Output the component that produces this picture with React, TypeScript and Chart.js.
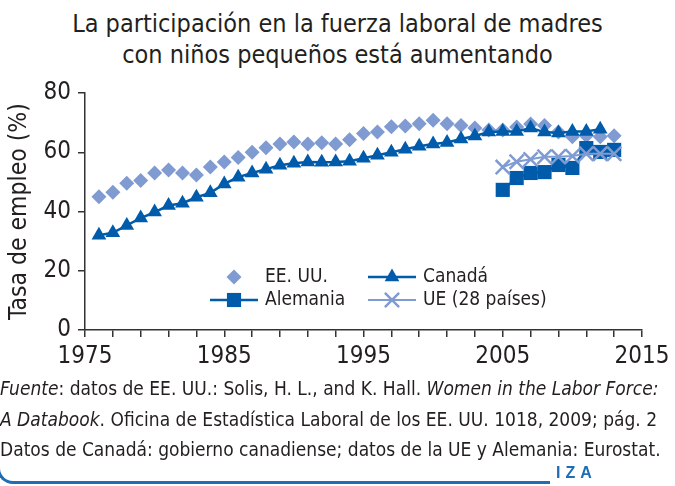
import React, { useEffect, useRef } from 'react';
import { Chart, registerables } from 'chart.js';

Chart.register(...registerables);

const FONT = "'Liberation Sans Narrow', 'DejaVu Sans Condensed', 'Roboto Condensed', 'Liberation Sans', sans-serif";

const titleLines = ['La participación en la fuerza laboral de madres', 'con niños pequeños está aumentando'];
const yAxisTitle = 'Tasa de empleo (%)';

const usYears = [1976, 1977, 1978, 1979, 1980, 1981, 1982, 1983, 1984, 1985, 1986, 1987, 1988, 1989, 1990, 1991, 1992, 1993, 1994, 1995, 1996, 1997, 1998, 1999, 2000, 2001, 2002, 2003, 2004, 2005, 2006, 2007, 2008, 2009, 2010, 2011, 2012, 2013];
const usValues = [45, 46.5, 49.5, 50.5, 53, 54, 53, 52.3, 55, 56.7, 58.2, 60, 61.5, 62.8, 63.5, 62.8, 63.2, 62.8, 64.2, 66.3, 66.8, 68.6, 68.9, 69.6, 70.8, 69.6, 69, 68.2, 67.5, 67.5, 68.5, 69.5, 69, 66.8, 65.2, 65.6, 65.2, 65.6];

const canadaYears = [1976, 1977, 1978, 1979, 1980, 1981, 1982, 1983, 1984, 1985, 1986, 1987, 1988, 1989, 1990, 1991, 1992, 1993, 1994, 1995, 1996, 1997, 1998, 1999, 2000, 2001, 2002, 2003, 2004, 2005, 2006, 2007, 2008, 2009, 2010, 2011, 2012];
const canadaValues = [32, 32.8, 35.3, 37.8, 39.8, 42, 42.8, 44.8, 46.3, 49.3, 51.6, 53, 54.3, 55.6, 56.3, 56.7, 56.6, 56.7, 57, 58, 59, 60, 61, 62, 62.8, 63.3, 64.5, 65.5, 66.8, 67, 67, 68.2, 66.8, 66.5, 67, 67, 67.8];

const germanyYears = [2005, 2006, 2007, 2008, 2009, 2010, 2011, 2012, 2013];
const germanyValues = [47.3, 51.3, 53, 53.3, 55.7, 54.7, 61.4, 60.1, 60.8];

const euYears = [2005, 2006, 2007, 2008, 2009, 2010, 2011, 2012, 2013];
const euValues = [55, 56.8, 57.6, 58.5, 58.5, 58.7, 59.5, 59.5, 59.5];

const xLabelYears = [1975, 1985, 1995, 2005, 2015];

const LIGHT = '#7f9bd1';
const DARK = '#005bab';
const AXIS = '#333333';

const toPoints = (xs: number[], ys: number[]) => xs.map((x, i) => ({ x, y: ys[i] }));

function drawMarker(ctx: CanvasRenderingContext2D, style: string, x: number, y: number, r: number, color: string) {
  ctx.save();
  ctx.fillStyle = color;
  ctx.strokeStyle = color;
  ctx.beginPath();
  if (style === 'rectRot') {
    ctx.moveTo(x, y - r);
    ctx.lineTo(x + r, y);
    ctx.lineTo(x, y + r);
    ctx.lineTo(x - r, y);
    ctx.closePath();
    ctx.fill();
  } else if (style === 'triangle') {
    const h = r * Math.sqrt(3) / 2;
    ctx.moveTo(x, y - r);
    ctx.lineTo(x + h, y + r / 2);
    ctx.lineTo(x - h, y + r / 2);
    ctx.closePath();
    ctx.fill();
  } else if (style === 'rect') {
    const s = Math.SQRT1_2 * r;
    ctx.rect(x - s, y - s, 2 * s, 2 * s);
    ctx.fill();
  } else if (style === 'crossRot') {
    const d = Math.SQRT1_2 * r;
    ctx.lineWidth = 2.5;
    ctx.moveTo(x - d, y - d);
    ctx.lineTo(x + d, y + d);
    ctx.moveTo(x - d, y + d);
    ctx.lineTo(x + d, y - d);
    ctx.stroke();
  }
  ctx.restore();
}

const legendPlugin = {
  id: 'customLegend',
  afterDatasetsDraw(chart: any) {
    const ctx = chart.ctx as CanvasRenderingContext2D;
    const items = [
      { idx: 0, cx: 234, cy: 277, line: false },
      { idx: 1, cx: 392, cy: 277, line: true },
      { idx: 2, cx: 234, cy: 300, line: true },
      { idx: 3, cx: 392, cy: 300, line: true },
    ];
    items.forEach((it) => {
      const ds = chart.data.datasets[it.idx];
      if (it.line) {
        ctx.save();
        ctx.strokeStyle = ds.borderColor;
        ctx.lineWidth = ds.borderWidth;
        ctx.beginPath();
        ctx.moveTo(it.cx - 24, it.cy);
        ctx.lineTo(it.cx + 24, it.cy);
        ctx.stroke();
        ctx.restore();
      }
      drawMarker(ctx, ds.pointStyle, it.cx, it.cy, ds.pointRadius, ds.pointBackgroundColor);
      ctx.save();
      ctx.fillStyle = '#231f20';
      ctx.font = `19px ${FONT}`;
      ctx.textBaseline = 'middle';
      ctx.textAlign = 'left';
      ctx.fillText(ds.label, it.cx + 31, it.cy);
      ctx.restore();
    });
  },
};

export default function App() {
  const canvasRef = useRef<HTMLCanvasElement | null>(null);

  useEffect(() => {
    if (!canvasRef.current) return;
    const chart = new Chart(canvasRef.current, {
      type: 'line',
      data: {
        datasets: [
          {
            label: 'EE. UU.',
            data: toPoints(usYears, usValues),
            showLine: false,
            borderColor: LIGHT,
            borderWidth: 0,
            pointStyle: 'rectRot',
            pointRadius: 7.5,
            pointBackgroundColor: LIGHT,
            pointBorderColor: LIGHT,
            pointBorderWidth: 0,
            order: 3,
          },
          {
            label: 'Canadá',
            data: toPoints(canadaYears, canadaValues),
            borderColor: DARK,
            borderWidth: 2.5,
            pointStyle: 'triangle',
            pointRadius: 8.5,
            pointBackgroundColor: DARK,
            pointBorderColor: DARK,
            pointBorderWidth: 0,
            order: 2,
          },
          {
            label: 'Alemania',
            data: toPoints(germanyYears, germanyValues),
            borderColor: DARK,
            borderWidth: 2.5,
            pointStyle: 'rect',
            pointRadius: 10,
            pointBackgroundColor: DARK,
            pointBorderColor: DARK,
            pointBorderWidth: 0,
            order: 1,
          },
          {
            label: 'UE (28 países)',
            data: toPoints(euYears, euValues),
            borderColor: LIGHT,
            borderWidth: 2,
            pointStyle: 'crossRot',
            pointRadius: 10,
            pointBackgroundColor: LIGHT,
            pointBorderColor: LIGHT,
            pointBorderWidth: 2.5,
            order: 0,
          },
        ],
      },
      options: {
        animation: false,
        responsive: false,
        maintainAspectRatio: false,
        layout: { padding: { top: 93, left: 0, right: 33, bottom: 116 } },
        plugins: {
          legend: { display: false },
          tooltip: { enabled: false },
          title: { display: false },
        },
        scales: {
          x: {
            type: 'linear',
            min: 1975,
            max: 2015,
            afterFit: (scale: any) => { scale.height = 40; },
            border: { display: true, color: AXIS, width: 1.5 },
            grid: { drawOnChartArea: false, drawTicks: true, tickLength: 7, color: AXIS, lineWidth: 1.5 },
            ticks: {
              stepSize: 2,
              autoSkip: false,
              maxRotation: 0,
              padding: 5,
              color: '#231f20',
              font: { family: FONT, size: 24 },
              callback: (v: any) => (xLabelYears.includes(Number(v)) ? String(v) : ''),
            },
          },
          y: {
            min: 0,
            max: 80,
            afterFit: (scale: any) => { scale.width = 85; },
            border: { display: true, color: AXIS, width: 1.5 },
            grid: { drawOnChartArea: false, drawTicks: true, tickLength: 7, color: AXIS, lineWidth: 1.5 },
            ticks: {
              stepSize: 20,
              padding: 7,
              color: '#231f20',
              font: { family: FONT, size: 24 },
            },
            title: {
              display: true,
              text: yAxisTitle,
              color: '#231f20',
              font: { family: FONT, size: 24.5 },
              padding: { top: 5, bottom: 0 },
            },
          },
        },
      },
      plugins: [legendPlugin],
    });
    return () => chart.destroy();
  }, []);

  return (
    <div style={{ position: 'fixed', left: 0, top: 0, width: 675, height: 486, overflow: 'hidden', background: '#fff', fontFamily: FONT, color: '#231f20' }}>
      <div style={{ position: 'absolute', left: 0, top: 8, width: 675, textAlign: 'center', fontSize: 25, lineHeight: '31px' }}>
        {titleLines.map((t) => (<div key={t}>{t}</div>))}
      </div>
      <canvas ref={canvasRef} width={675} height={486} style={{ position: 'absolute', left: 0, top: 0, width: 675, height: 486 }} />
      <div style={{ position: 'absolute', left: 0, top: 373, width: 700, fontSize: 19, lineHeight: '30.5px', whiteSpace: 'nowrap' }}>
        <div><i>Fuente</i>: datos de EE. UU.: Solis, H. L., and K. Hall. <i>Women in the Labor Force:</i></div>
        <div><i>A Databook</i>. Oficina de Estadística Laboral de los EE. UU. 1018, 2009; pág. 2</div>
        <div>Datos de Canadá: gobierno canadiense; datos de la UE y Alemania: Eurostat.</div>
      </div>
      <div style={{ position: 'absolute', left: -3, top: 440, width: 550, height: 41, borderLeft: '3px solid #1f6db5', borderBottom: '3px solid #1f6db5', borderBottomLeftRadius: 16 }} />
      <div style={{ position: 'absolute', left: 556, top: 464, fontSize: 16, fontWeight: 'bold', color: '#1f6db5', letterSpacing: '5px', fontFamily: "'Liberation Sans', sans-serif", lineHeight: '18px' }}>IZA</div>
    </div>
  );
}
